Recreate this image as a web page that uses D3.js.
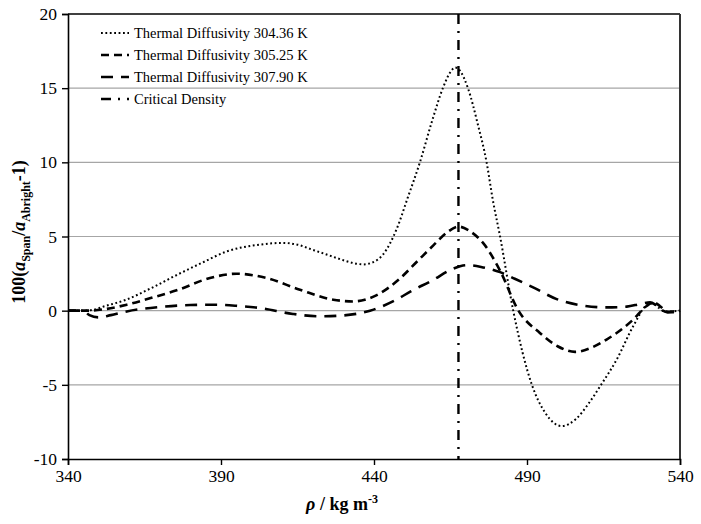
<!DOCTYPE html>
<html>
<head>
<meta charset="utf-8">
<script src="https://cdn.jsdelivr.net/npm/d3@7"></script>
<style>
  body { margin: 0; background: #fff; }
  svg { display: block; font-family: "Liberation Serif", "Times New Roman", serif; }
</style>
</head>
<body>
<svg id="chart" width="701" height="524"></svg>
<script>
// ---- Data ----
const rho304 = [340,345,348,352,359,367,375.5,384,392,402.7,410,415,420,425,430,433.5,436.5,439.5,443,447.4,451,455,459,462.5,465,466.5,468,470.7,474,476.8,478.8,481.2,485.5,491.6,496,501.3,506,510,514.2,519.3,524.7,529,531,533,535,537,540];
const val304 = [0,0,0.05,0.3,0.74,1.5,2.4,3.25,4.0,4.45,4.57,4.45,4.1,3.75,3.4,3.2,3.12,3.25,3.8,5.5,7.6,10.0,12.8,15.0,16.1,16.4,16.2,15.0,12.5,10.0,7.5,5.0,0,-5,-6.9,-7.78,-7.3,-6.3,-5.0,-3.3,-1.05,0.35,0.5,0.2,-0.05,-0.05,0];

const rho305 = [340,347,352,359.2,367,375.5,386.4,395.1,404.9,415.8,426.7,433.1,440.9,448,454,459.4,464,467.6,471,475.7,481.2,487.2,494.2,500,505.7,511,516,524.7,529,531.5,533.5,536,538,540];
const val305 = [0,0,0.1,0.4,0.85,1.37,2.2,2.49,2.2,1.41,0.74,0.62,1.05,2.08,3.3,4.4,5.3,5.67,5.4,4.55,2.7,0,-1.5,-2.4,-2.78,-2.5,-1.95,-0.6,0.3,0.55,0.3,-0.1,-0.1,0];

const rho307 = [340,345,347,350,354,359.2,370,380,388,395,402.7,413.5,422.4,430,438.7,447.4,452,459.4,465,470.3,475,481.2,486,492,499.7,508.4,516,522.6,527,530.2,532,534,536,538,540];
const val307 = [0,0,-0.3,-0.45,-0.3,-0.05,0.25,0.38,0.4,0.33,0.18,-0.22,-0.38,-0.32,0,0.75,1.3,2.08,2.75,3.07,2.95,2.6,2.15,1.57,0.78,0.34,0.22,0.27,0.45,0.56,0.4,0.05,-0.1,-0.05,0];

const criticalDensity = 467.6;

const seriesNames = ["Thermal Diffusivity 304.36 K", "Thermal Diffusivity 305.25 K", "Thermal Diffusivity 307.90 K", "Critical Density"];
const xTicks = [340, 390, 440, 490, 540];
const yTicks = [-10, -5, 0, 5, 10, 15, 20];

// ---- Layout ----
const W = 701, H = 524;
const m = { left: 68, right: 21, top: 14, bottom: 65 };
const svg = d3.select("#chart");
const x = d3.scaleLinear().domain([340, 540]).range([m.left, W - m.right]);
const y = d3.scaleLinear().domain([-10, 20]).range([H - m.bottom, m.top]);

// Grid lines
svg.append("g").selectAll("line")
  .data(yTicks.filter(d => d > -10 && d < 20))
  .join("line")
  .attr("x1", x(340)).attr("x2", x(540))
  .attr("y1", d => y(d)).attr("y2", d => y(d))
  .attr("stroke", "#a6a6a6").attr("stroke-width", 1.2);

// Top and right border
svg.append("line").attr("x1", x(340)).attr("x2", x(540)).attr("y1", y(20)).attr("y2", y(20))
  .attr("stroke", "#000").attr("stroke-width", 1.5);
svg.append("line").attr("x1", x(540)).attr("x2", x(540)).attr("y1", y(20)).attr("y2", y(-10))
  .attr("stroke", "#333").attr("stroke-width", 2);

// Axes
const fmt = d => String(d);
const xAxis = svg.append("g").attr("transform", `translate(0,${y(-10)})`)
  .call(d3.axisBottom(x).tickValues(xTicks).tickSize(6).tickPadding(5).tickFormat(fmt));
const yAxis = svg.append("g").attr("transform", `translate(${x(340)},0)`)
  .call(d3.axisLeft(y).tickValues(yTicks).tickSize(6).tickPadding(5).tickFormat(fmt));
[xAxis, yAxis].forEach(g => {
  g.select(".domain").attr("stroke", "#000").attr("stroke-width", 1.6);
  g.selectAll(".tick line").attr("stroke", "#000").attr("stroke-width", 1.4);
  g.selectAll(".tick text").attr("font-family", "Liberation Serif, serif").attr("font-size", 17.5).attr("fill", "#000");
});

// Lines
const line = d3.line().x(d => x(d[0])).y(d => y(d[1])).curve(d3.curveMonotoneX);
const series = [
  { r: rho304, v: val304, dash: "1.8,2.6", w: 2.0 },
  { r: rho305, v: val305, dash: "8,5", w: 2.6 },
  { r: rho307, v: val307, dash: "12,8", w: 2.6 }
];
series.forEach(s => {
  svg.append("path")
    .datum(d3.zip(s.r, s.v))
    .attr("d", line)
    .attr("fill", "none")
    .attr("stroke", "#000")
    .attr("stroke-width", s.w)
    .attr("stroke-dasharray", s.dash);
});

// Critical density vertical line
svg.append("line")
  .attr("x1", x(criticalDensity)).attr("x2", x(criticalDensity))
  .attr("y1", y(20)).attr("y2", y(-10))
  .attr("stroke", "#000").attr("stroke-width", 2.4)
  .attr("stroke-dasharray", "10,7,2,7");

// Legend
const legendStyles = [
  { dash: "1.8,2.6", w: 2.0 },
  { dash: "8,5", w: 2.6 },
  { dash: "12,8", w: 2.6 },
  { dash: "10,7,2,7", w: 2.4 }
];
const lg = svg.append("g");
seriesNames.forEach((name, i) => {
  const yy = 33 + i * 22;
  lg.append("line").attr("x1", 101).attr("x2", 129).attr("y1", yy).attr("y2", yy)
    .attr("stroke", "#000").attr("stroke-width", legendStyles[i].w)
    .attr("stroke-dasharray", legendStyles[i].dash);
  lg.append("text").attr("x", 134).attr("y", yy).attr("dy", "0.35em")
    .attr("font-size", 14.5).attr("fill", "#000").text(name);
});

// X axis title
const xt = svg.append("text").attr("x", 342).attr("y", 510).attr("text-anchor", "middle")
  .attr("font-size", 18).attr("font-weight", "bold").attr("fill", "#000");
xt.append("tspan").attr("font-style", "italic").text("ρ");
xt.append("tspan").text(" / kg m");
xt.append("tspan").attr("font-size", 12).attr("dy", -7).text("-3");

// Y axis title
const yt = svg.append("text")
  .attr("transform", `translate(25,${232}) rotate(-90)`)
  .attr("text-anchor", "middle").attr("font-size", 18).attr("font-weight", "bold").attr("fill", "#000");
yt.append("tspan").text("100(");
yt.append("tspan").attr("font-style", "italic").text("a");
yt.append("tspan").attr("font-size", 12).attr("dy", 5).text("Span");
yt.append("tspan").attr("dy", -5).text("/");
yt.append("tspan").attr("font-style", "italic").text("a");
yt.append("tspan").attr("font-size", 12).attr("dy", 5).text("Abright");
yt.append("tspan").attr("dy", -5).text("-1)");
</script>
</body>
</html>
